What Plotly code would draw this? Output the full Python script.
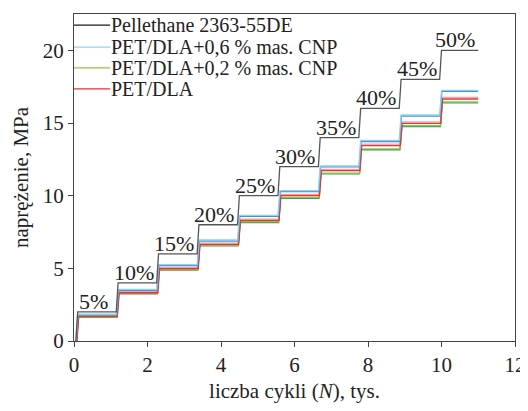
import plotly.graph_objects as go

# ---- data (stress in MPa, cycles in thousands) ----
step_start_kcycles = [0.1, 1.2, 2.3, 3.4, 4.5, 5.6, 6.7, 7.8, 8.9, 10.0]
test_end_kcycles = 11.0
strain_labels = ["5%", "10%", "15%", "20%", "25%", "30%", "35%", "40%", "45%", "50%"]

stress_pellethane = [2.0, 4.0, 6.0, 8.0, 10.0, 12.0, 14.0, 16.0, 18.0, 20.0]
stress_cnp06 = [1.85, 3.55, 5.25, 6.95, 8.65, 10.35, 12.05, 13.8, 15.55, 17.25]
stress_cnp06_b = [1.8, 3.48, 5.18, 6.88, 8.58, 10.28, 11.98, 13.72, 15.48, 17.18]
stress_cnp02 = [1.66, 3.3, 4.92, 6.6, 8.22, 9.88, 11.55, 13.22, 14.82, 16.45]
stress_cnp02_b = [1.62, 3.25, 4.87, 6.55, 8.15, 9.82, 11.5, 13.16, 14.76, 16.38]
stress_pet_dla = [1.7, 3.32, 4.98, 6.65, 8.3, 10.0, 11.72, 13.45, 14.97, 16.65]
stress_pet_dla_b = [1.76, 3.4, 5.06, 6.73, 8.38, 10.08, 11.8, 13.55, 15.08, 16.76]

series_names = [
    "Pellethane 2363-55DE",
    "PET/DLA+0,6 % mas. CNP",
    "PET/DLA+0,2 % mas. CNP",
    "PET/DLA",
]
series_colors = ["#1a1a1a", "#8dd3f0", "#8dc63f", "#e8303a"]

FONT = "Liberation Serif, Times New Roman, serif"


def step_path(levels, starts, end, ramp=0.05, lag=0.0):
    xs = [starts[0] - ramp + lag]
    ys = [0.0]
    for i, lev in enumerate(levels):
        xs.append(starts[i] + lag)
        ys.append(lev)
        nxt = starts[i + 1] - ramp + lag if i + 1 < len(starts) else end
        xs.append(nxt)
        ys.append(lev)
    return xs, ys


fig = go.Figure()

traces = [
    (stress_pet_dla_b, "#f4a3ab", 0.02, "PET/DLA (2)"),
    (stress_cnp02_b, "#3a9d5d", 0.02, "PET/DLA+0,2 (2)"),
    (stress_cnp02, series_colors[2], 0.02, series_names[2]),
    (stress_pet_dla, series_colors[3], 0.03, series_names[3]),
    (stress_cnp06_b, "#4a8fd6", 0.01, "PET/DLA+0,6 (2)"),
    (stress_cnp06, series_colors[1], 0.0, series_names[1]),
    (stress_pellethane, "#555555", 0.0, series_names[0]),
]
for levels, color, lag, name in traces:
    xs, ys = step_path(levels, step_start_kcycles, test_end_kcycles, lag=lag)
    fig.add_trace(go.Scatter(x=xs, y=ys, mode="lines", name=name,
                             line=dict(color=color, width=1.3),
                             showlegend=False, hoverinfo="skip"))

# strain level labels above Pellethane steps
annotations = []
for i, lab in enumerate(strain_labels):
    s = step_start_kcycles[i]
    e = step_start_kcycles[i + 1] if i + 1 < len(step_start_kcycles) else test_end_kcycles
    annotations.append(dict(x=(s + e) / 2 - 0.13, y=stress_pellethane[i], xref="x", yref="y",
                            text=lab, showarrow=False, yanchor="bottom", xanchor="center",
                            yshift=-4, font=dict(family=FONT, size=22, color="#222")))

# manual legend (top-left inside plot)
legend_y = [0.966, 0.899, 0.835, 0.771]
legend_x_text = 0.082
shapes = []
for name, color, ly in zip(series_names, series_colors, legend_y):
    shapes.append(dict(type="line", xref="paper", yref="paper", x0=0, x1=legend_x_text,
                       y0=ly, y1=ly, line=dict(color=color, width=1.3)))
    annotations.append(dict(x=legend_x_text, y=ly, xref="paper", yref="paper", text=name,
                            showarrow=False, xanchor="left", yanchor="middle", xshift=-1,
                            font=dict(family=FONT, size=20, color="#222")))

# the page body adds an 8 px offset on every side
fig.update_layout(
    width=520, height=395,
    margin=dict(l=66, r=13, t=6, b=62, autoexpand=False),
    paper_bgcolor="white", plot_bgcolor="white",
    font=dict(family=FONT, size=21, color="#222"),
    showlegend=False,
    annotations=annotations,
    shapes=shapes,
    xaxis=dict(range=[0, 12], tickvals=[0, 2, 4, 6, 8, 10, 12], showgrid=False, zeroline=False,
               showline=True, linecolor="#444", linewidth=1, mirror=True, automargin=False,
               ticks="outside", ticklen=5, tickcolor="#444", ticklabeloverflow="allow",
               tickfont=dict(family=FONT, size=21),
               title=dict(text="liczba cykli (<i>N</i>), tys.", font=dict(family=FONT, size=21),
                          standoff=12)),
    yaxis=dict(range=[0, 22.5], tickvals=[0, 5, 10, 15, 20], showgrid=False, zeroline=False,
               showline=True, linecolor="#444", linewidth=1, mirror=True, automargin=False,
               ticks="outside", ticklen=5, tickcolor="#444",
               tickfont=dict(family=FONT, size=21),
               title=dict(text="naprężenie, MPa", font=dict(family=FONT, size=21), standoff=8)),
)

fig.write_html("out.html")
